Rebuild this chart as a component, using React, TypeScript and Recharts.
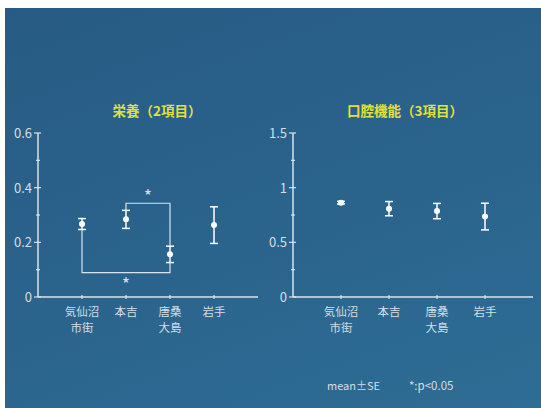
import { ScatterChart, Scatter, XAxis, YAxis, ErrorBar } from 'recharts';

const categories = [['気仙沼', '市街'], ['本吉'], ['唐桑', '大島'], ['岩手']];
const nutritionMean = [0.267, 0.284, 0.156, 0.263];
const nutritionSE = [0.02, 0.033, 0.03, 0.067];
const oralMean = [0.863, 0.808, 0.786, 0.736];
const oralSE = [0.012, 0.065, 0.07, 0.122];

// significance brackets (left panel), in data units
const bracketUpper = [{ x: 2, y: 0.315 }, { x: 2, y: 0.343 }, { x: 3, y: 0.343 }, { x: 3, y: 0.186 }];
const bracketLower = [{ x: 1, y: 0.247 }, { x: 1, y: 0.089 }, { x: 3, y: 0.089 }, { x: 3, y: 0.127 }];
const stars = [{ x: 2.5, y: 0.372 }, { x: 2, y: 0.05 }];

const nutritionTicks = [0, 0.1, 0.2, 0.3, 0.4, 0.5, 0.6];
const nutritionLabels = [0, 0.2, 0.4, 0.6];
const oralTicks = [0, 0.25, 0.5, 0.75, 1, 1.25, 1.5];
const oralLabels = [0, 0.5, 1, 1.5];

const font = '"Noto Sans CJK JP", "Noto Sans", sans-serif';
const lineColor = '#d9e3ea';
const textColor = '#d6dfe6';

const toRows = (means: number[], se: number[]) =>
  means.map((m, i) => ({ x: i + 1, y: m, err: se[i] }));

function YTick({ x, y, payload, labels }: any) {
  const major = labels.includes(payload.value);
  return (
    <g>
      <line x1={x - (major ? 4 : 2)} x2={x + (major ? 3 : 2)} y1={y} y2={y} stroke={lineColor} strokeWidth={1.2} />
      {major && (
        <text x={x - 6} y={y} dy={5} textAnchor="end" fill={textColor} fontSize={13} fontFamily={font}>
          {String(payload.value)}
        </text>
      )}
    </g>
  );
}

function XTick({ x, y, payload }: any) {
  const lines = categories[payload.value - 1] || [];
  return (
    <g>
      <line x1={x} x2={x} y1={y - 2} y2={y + 2} stroke={lineColor} strokeWidth={1.2} />
      {lines.map((t, i) => (
        <text key={i} x={x} y={y + 19 + i * 16} textAnchor="middle" fill={textColor} fontSize={11.5} fontFamily={font}>
          {t}
        </text>
      ))}
    </g>
  );
}

const Dot = ({ cx, cy }: any) => <circle cx={cx} cy={cy} r={3} fill="#ffffff" />;
const Star = ({ cx, cy }: any) => (
  <text x={cx} y={cy + 8} textAnchor="middle" fill={textColor} fontSize={18} fontFamily={font}>*</text>
);

function Panel({ rows, max, ticks, labels, left, width, right, extra }: any) {
  return (
    <div style={{ position: 'absolute', left, top: 0 }}>
      <ScatterChart width={width} height={340} margin={{ top: 133, right, bottom: 0, left: 8 }}>
        <XAxis
          type="number"
          dataKey="x"
          domain={[0, 5]}
          ticks={[1, 2, 3, 4]}
          tick={<XTick />}
          tickLine={false}
          tickSize={0}
          tickMargin={0}
          height={43}
          axisLine={{ stroke: lineColor, strokeWidth: 1.5 }}
        />
        <YAxis
          type="number"
          dataKey="y"
          domain={[0, max]}
          ticks={ticks}
          tick={<YTick labels={labels} />}
          tickLine={false}
          tickSize={0}
          tickMargin={0}
          width={30}
          axisLine={{ stroke: lineColor, strokeWidth: 1.5 }}
        />
        {extra}
        <Scatter data={rows} shape={<Dot />} isAnimationActive={false}>
          <ErrorBar dataKey="err" direction="y" width={4} stroke="#ffffff" strokeWidth={1.5} />
        </Scatter>
      </ScatterChart>
    </div>
  );
}

export default function App() {
  const brackets = [
    <Scatter key="bu" data={bracketUpper} line={{ stroke: lineColor, strokeWidth: 1.2 }} lineType="joint" shape={() => <g />} isAnimationActive={false} />,
    <Scatter key="bl" data={bracketLower} line={{ stroke: lineColor, strokeWidth: 1.2 }} lineType="joint" shape={() => <g />} isAnimationActive={false} />,
    <Scatter key="st" data={stars} shape={<Star />} isAnimationActive={false} />,
  ];
  return (
    <div style={{ position: 'absolute', left: 0, top: 0, width: 541, height: 408, background: '#ffffff', overflow: 'hidden' }}>
      <div
        style={{
          position: 'absolute',
          left: 5,
          top: 8,
          width: 536,
          height: 400,
          background: 'linear-gradient(160deg, #275b84 0%, #2a638c 50%, #2e6d95 100%)',
        }}
      />
      <div style={{ position: 'absolute', left: 57, top: 100, width: 200, textAlign: 'center', color: '#e3e03c', fontSize: 13.5, fontWeight: 'bold', fontFamily: font }}>
        栄養（2項目）
      </div>
      <div style={{ position: 'absolute', left: 305, top: 100, width: 200, textAlign: 'center', color: '#e3e03c', fontSize: 13.5, fontWeight: 'bold', fontFamily: font }}>
        口腔機能（3項目）
      </div>
      <Panel
        rows={toRows(nutritionMean, nutritionSE)}
        max={0.6}
        ticks={nutritionTicks}
        labels={nutritionLabels}
        left={0}
        width={270}
        right={12}
        extra={brackets}
      />
      <Panel
        rows={toRows(oralMean, oralSE)}
        max={1.5}
        ticks={oralTicks}
        labels={oralLabels}
        left={255}
        width={286}
        right={8}
      />
      <div style={{ position: 'absolute', left: 327, top: 377, color: textColor, fontSize: 11, fontFamily: font }}>
        mean±SE
      </div>
      <div style={{ position: 'absolute', left: 409, top: 377, color: textColor, fontSize: 11.5, fontFamily: font }}>
        *:p&lt;0.05
      </div>
    </div>
  );
}
